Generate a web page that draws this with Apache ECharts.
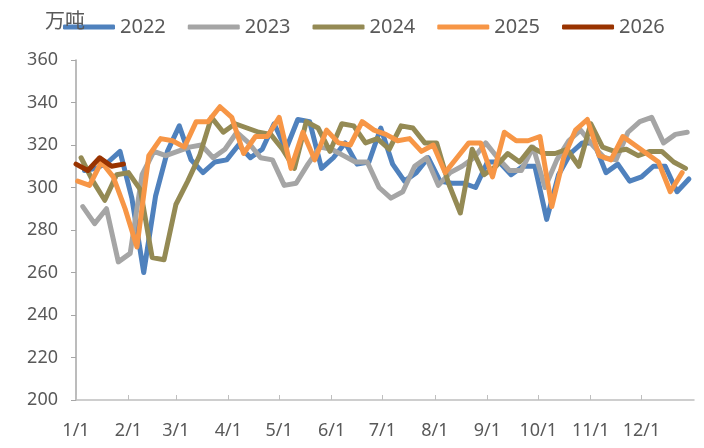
<!DOCTYPE html>
<html>
<head>
<meta charset="utf-8">
<script src="https://cdn.jsdelivr.net/npm/echarts@6/dist/echarts.min.js"></script>
<style>
  html, body { margin: 0; padding: 0; background: #fff; }
  #main { width: 704px; height: 448px; }
</style>
</head>
<body>
<div id="main"></div>
<script>
// weekly data, one point every 7 days, starting from the first week of each year
var years = ['2022', '2023', '2024', '2025', '2026'];
var startDay = [5, 4, 3, 1, 0]; // day of year of the first weekly point
var colors = ['#4f81bd', '#a5a5a5', '#948a54', '#f79646', '#993300'];

var v2022 = [308, 309, 312, 317, 295, 260, 296, 317, 329, 313, 307, 312, 313, 320, 314, 318, 330, 318, 332, 331,
  309, 314, 321, 311, 312, 328, 311, 303, 307, 314, 303, 302, 302, 300, 312, 312, 306, 310, 310, 285,
  306, 316, 321, 321, 307, 311, 303, 305, 310, 310, 298, 304];
var v2023 = [291, 283, 290, 265, 269, 306, 317, 315, 317, 319, 320, 314, 318, 326, 321, 314, 313, 301, 302, 311,
  319, 318, 315, 312, 312, 300, 295, 298, 310, 314, 301, 307, 310, 314, 321, 314, 308, 308, 319, 300,
  313, 322, 327, 320, 314, 313, 326, 331, 333, 321, 325, 326];
var v2024 = [314, 303, 294, 306, 307, 299, 267, 266, 292, 303, 315, 333, 326, 330, 328, 326, 325, 318, 309, 331,
  328, 317, 330, 329, 321, 323, 318, 329, 328, 321, 321, 302, 288, 318, 306, 310, 316, 312, 319, 316,
  316, 318, 310, 330, 319, 317, 318, 315, 317, 317, 312, 309];
var v2025 = [303, 301, 312, 305, 290, 272, 315, 323, 322, 319, 331, 331, 338, 333, 316, 324, 324, 333, 309, 326,
  313, 327, 321, 320, 331, 327, 325, 322, 323, 317, 320, 307, 314, 321, 321, 305, 326, 322, 322, 324,
  291, 314, 327, 332, 315, 313, 324, 320, 316, 312, 298, 307];
var v2026 = [311, 308, 314, 310, 311];
var allValues = [v2022, v2023, v2024, v2025, v2026];

// month ticks (day of year) and their labels
var monthDays = [0, 31, 59, 90, 120, 151, 181, 212, 243, 273, 304, 334];
var monthLabels = ['1/1', '2/1', '3/1', '4/1', '5/1', '6/1', '7/1', '8/1', '9/1', '10/1', '11/1', '12/1'];

var chart = echarts.init(document.getElementById('main'), null, { renderer: 'canvas' });

var series = years.map(function (y, k) {
  return {
    name: y,
    type: 'line',
    showSymbol: false,
    symbol: 'none',
    lineStyle: { width: 5, color: colors[k], cap: 'round', join: 'round' },
    itemStyle: { color: colors[k] },
    z: 2 + k,
    data: allValues[k].map(function (v, i) { return [startDay[k] + 7 * i, v]; })
  };
});

var option = {
  animation: false,
  color: colors,
  title: {
    text: '万吨',
    left: 40,
    top: 5,
    textStyle: { fontSize: 20, fontWeight: 'normal', color: '#595959', fontFamily: 'Noto Sans CJK SC' }
  },
  legend: {
    left: 58,
    top: 12,
    icon: 'roundRect',
    itemWidth: 52,
    itemHeight: 5,
    itemGap: 22,
    textStyle: { fontSize: 20, color: '#595959', fontFamily: 'Noto Sans' },
    data: years
  },
  grid: { left: 76, right: 10, top: 60, bottom: 48, containLabel: false },
  xAxis: {
    type: 'value',
    min: 0,
    max: 365,
    splitLine: { show: false },
    axisLine: { show: true, lineStyle: { color: '#bfbfbf', width: 1.5 } },
    axisTick: { show: true, inside: true, length: 5, customValues: monthDays, lineStyle: { color: '#bfbfbf' } },
    axisLabel: {
      customValues: monthDays,
      margin: 22,
      fontSize: 18,
      color: '#595959',
      fontFamily: 'Noto Sans',
      formatter: function (val) {
        var idx = monthDays.indexOf(val);
        return idx >= 0 ? monthLabels[idx] : '';
      }
    }
  },
  yAxis: {
    type: 'value',
    min: 200,
    max: 360,
    interval: 20,
    splitLine: { show: false },
    axisLine: { show: true, lineStyle: { color: '#a6a6a6', width: 1.5 } },
    axisTick: { show: true, inside: false, length: 5, lineStyle: { color: '#a6a6a6' } },
    axisLabel: { margin: 18, fontSize: 18, color: '#595959', fontFamily: 'Noto Sans' }
  },
  series: series
};

chart.setOption(option);
</script>
</body>
</html>
